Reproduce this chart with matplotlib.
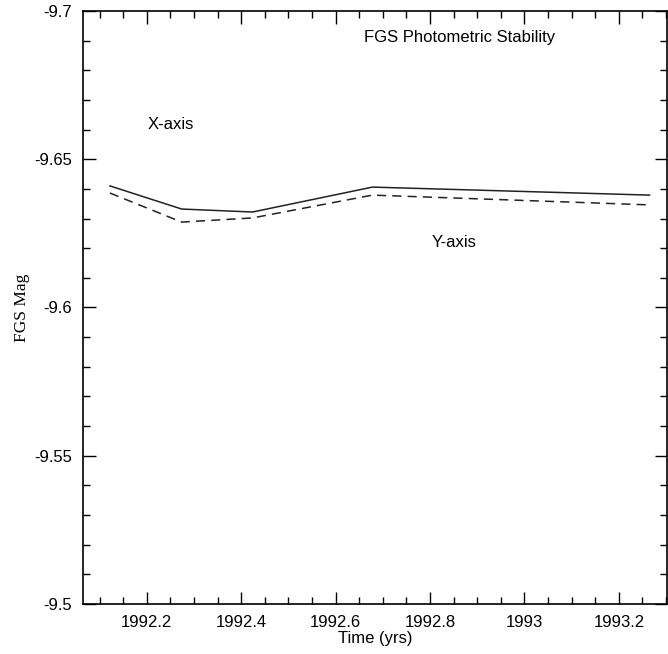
import matplotlib
matplotlib.use('Agg')
import matplotlib.pyplot as plt
from matplotlib.ticker import MultipleLocator, FuncFormatter

# values
time_yrs = [1992.122, 1992.274, 1992.424, 1992.678, 1993.265]
x_axis_mag = [-9.6410, -9.6332, -9.6322, -9.6406, -9.6379]
y_axis_mag = [-9.6386, -9.6288, -9.6302, -9.6379, -9.6346]

plt.rcParams['font.family'] = ['Liberation Sans', 'DejaVu Sans']

fig = plt.figure(figsize=(6.68, 6.54), dpi=100)
ax = fig.add_axes([0.1243, 0.0765, 0.8742, 0.9067])

ax.plot(time_yrs, x_axis_mag, color='#222222', lw=1.1, linestyle='-')
ax.plot(time_yrs, y_axis_mag, color='#222222', lw=1.1, linestyle=(0, (6, 4)))

ax.set_xlim(1992.065, 1993.302)
ax.set_ylim(-9.5, -9.7)

ax.xaxis.set_major_locator(MultipleLocator(0.2))
ax.xaxis.set_minor_locator(MultipleLocator(0.05))
ax.yaxis.set_major_locator(MultipleLocator(0.05))
ax.yaxis.set_minor_locator(MultipleLocator(0.01))
fmt = FuncFormatter(lambda v, p: '%g' % round(v, 3))
ax.xaxis.set_major_formatter(fmt)
ax.yaxis.set_major_formatter(fmt)

ax.tick_params(which='both', direction='in', top=True, right=True, labelsize=12, width=1)
ax.tick_params(which='major', length=9, pad=8)
ax.tick_params(which='minor', length=5)
for s in ax.spines.values():
    s.set_linewidth(1.2)

ax.set_xlabel('Time (yrs)', fontsize=12, labelpad=1)
ax.set_ylabel('FGS Mag', fontsize=12.5, family='Liberation Serif')
ax.yaxis.set_label_coords(-0.091, 0.5)

ax.text(1992.661, -9.6912, 'FGS Photometric Stability', fontsize=12, ha='left', va='center')
ax.text(1992.202, -9.6616, 'X-axis', fontsize=12, ha='left', va='center')
ax.text(1992.803, -9.6218, 'Y-axis', fontsize=12, ha='left', va='center')

fig.savefig('out.png', dpi=100)
